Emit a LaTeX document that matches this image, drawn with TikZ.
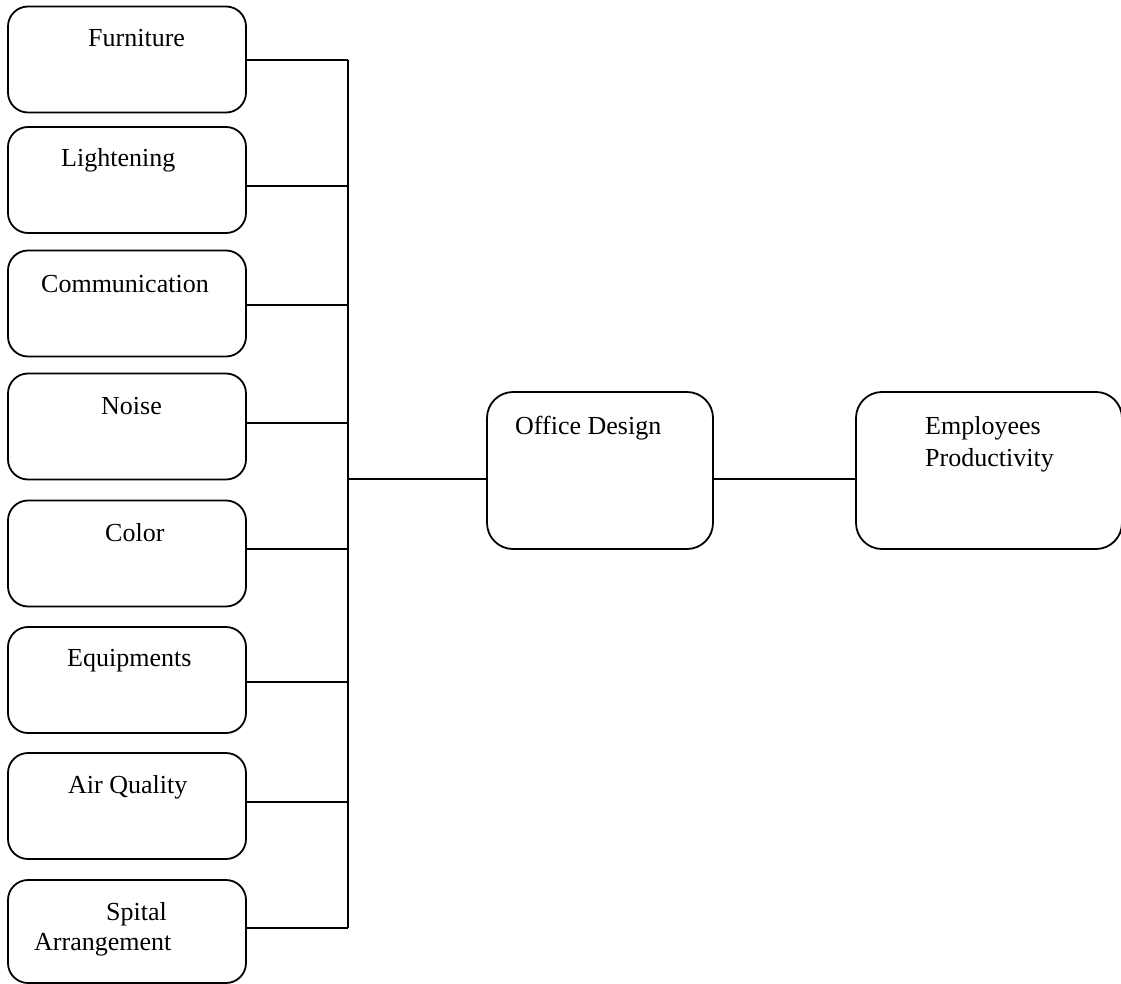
\documentclass[tikz,border=0pt]{standalone}
\usepackage{fontspec}
\setmainfont{Liberation Serif}
\begin{document}
\begin{tikzpicture}[x=1pt,y=-1pt,
  box/.style={draw,line width=1.8pt,rounded corners=20pt,inner sep=0pt,minimum width=238pt,minimum height=106pt},
  bigbox/.style={draw,line width=1.8pt,rounded corners=26pt,inner sep=0pt,minimum height=157pt},
  txt/.style={anchor=base west,inner sep=0pt,font=\fontsize{26}{32}\selectfont},
  conn/.style={line width=1.6pt}]
\useasboundingbox (0,0) rectangle (1121,984);
\node[box] (f1) at (127,59.5) {};
\node[box] (f2) at (127,180) {};
\node[box] (f3) at (127,303.5) {};
\node[box] (f4) at (127,426.5) {};
\node[box] (f5) at (127,553.5) {};
\node[box] (f6) at (127,680) {};
\node[box] (f7) at (127,806) {};
\node[box,minimum height=103pt] (f8) at (127,931.5) {};
\node[bigbox,minimum width=226pt] (office) at (600,470.5) {};
\node[bigbox,minimum width=266pt] (emp) at (989,470.5) {};
\node[txt] (t1) at (88,47) {Furniture};
\node[txt] (t2) at (61,167) {Lightening};
\node[txt] (t3) at (41,292) {Communication};
\node[txt] (t4) at (101,414) {Noise};
\node[txt] (t5) at (105,541) {Color};
\node[txt] (t6) at (67,666) {Equipments};
\node[txt] (t7) at (68,793) {Air Quality};
\node[txt] (t8a) at (106,920) {Spital};
\node[txt] (t8b) at (34,950) {Arrangement};
\node[txt] (t9) at (515,434) {Office Design};
\node[txt] (t10a) at (925,434) {Employees};
\node[txt] (t10b) at (925,466) {Productivity};
\coordinate (j) at (348,479);
\coordinate (bt) at (348,60);
\coordinate (bb) at (348,928);
\draw[conn] (bt) -- (bb);
\draw[conn] ([yshift=-0.5pt]f1.east) -- ([yshift=-0.5pt]f1.east -| j);
\draw[conn] ([yshift=-6pt]f2.east) -- ([yshift=-6pt]f2.east -| j);
\draw[conn] ([yshift=-1.5pt]f3.east) -- ([yshift=-1.5pt]f3.east -| j);
\draw[conn] ([yshift=3.5pt]f4.east) -- ([yshift=3.5pt]f4.east -| j);
\draw[conn] ([yshift=4.5pt]f5.east) -- ([yshift=4.5pt]f5.east -| j);
\draw[conn] ([yshift=-2pt]f6.east) -- ([yshift=-2pt]f6.east -| j);
\draw[conn] ([yshift=4pt]f7.east) -- ([yshift=4pt]f7.east -| j);
\draw[conn] ([yshift=3.5pt]f8.east) -- ([yshift=3.5pt]f8.east -| j);
\draw[conn] (j) -- (office.west |- j);
\draw[conn] ([yshift=-8.5pt]office.east) -- ([yshift=-8.5pt]emp.west);
\end{tikzpicture}
\end{document}
